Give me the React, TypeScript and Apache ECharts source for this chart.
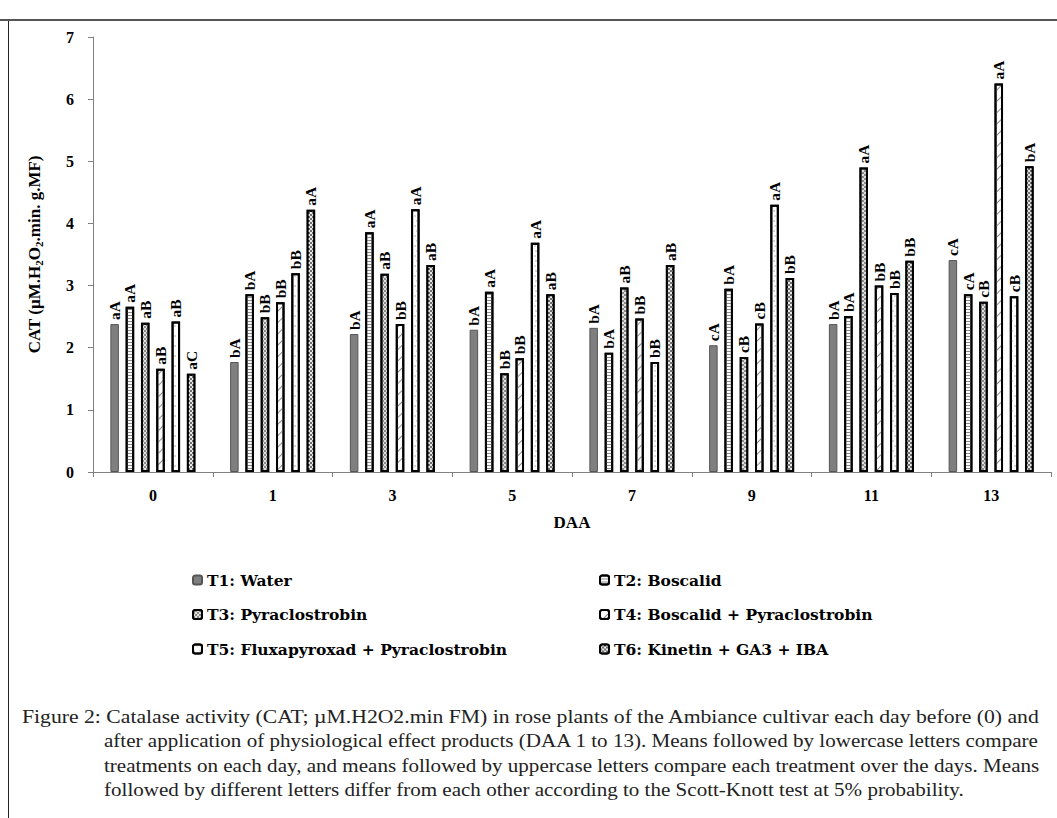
import React, { useEffect, useRef } from "react";
import * as echarts from "echarts";

const days = ["0", "1", "3", "5", "7", "9", "11", "13"];
const treatments = [
  "T1: Water",
  "T2: Boscalid",
  "T3: Pyraclostrobin",
  "T4: Boscalid + Pyraclostrobin",
  "T5: Fluxapyroxad + Pyraclostrobin",
  "T6: Kinetin + GA3 + IBA",
];
const t1 = [2.38, 1.77, 2.22, 2.29, 2.32, 2.04, 2.38, 3.41];
const t2 = [2.66, 2.86, 3.86, 2.9, 1.92, 2.95, 2.51, 2.86];
const t3 = [2.4, 2.49, 3.19, 1.59, 2.97, 1.85, 4.9, 2.74];
const t4 = [1.66, 2.73, 2.38, 1.83, 2.47, 2.39, 3.0, 6.25];
const t5 = [2.42, 3.2, 4.23, 3.69, 1.77, 4.3, 2.88, 2.83];
const t6 = [1.58, 4.22, 3.33, 2.86, 3.33, 3.12, 3.4, 4.92];
const l1 = ["aA", "bA", "bA", "bA", "bA", "cA", "bA", "cA"];
const l2 = ["aA", "bA", "aA", "aA", "bA", "bA", "bA", "cA"];
const l3 = ["aB", "bB", "aB", "bB", "aB", "cB", "aA", "cB"];
const l4 = ["aB", "bB", "bB", "bB", "bB", "cB", "bB", "aA"];
const l5 = ["aB", "bB", "aA", "aA", "bB", "aA", "bB", "cB"];
const l6 = ["aC", "aA", "aB", "aB", "aB", "bB", "bB", "bA"];
const values = [t1, t2, t3, t4, t5, t6];
const letters = [l1, l2, l3, l4, l5, l6];
const yAxisTitle = "CAT (µM.H{s|2}O{s|2}.min. g.MF)";
const xAxisTitle = "DAA";
const caption = [
  "Figure 2: Catalase activity (CAT; µM.H2O2.min FM) in rose plants of the Ambiance cultivar each day before (0) and",
  "after application of physiological effect products (DAA 1 to 13). Means followed by lowercase letters compare",
  "treatments on each day, and means followed by uppercase letters compare each treatment over the days. Means",
  "followed by different letters differ from each other according to the Scott-Knott test at 5% probability.",
];

const SERIF = "Liberation Serif";
const WIDE_SERIF = "DejaVu Serif";

const styles: any[] = [
  { color: "#7f7f7f", borderColor: "#555", borderWidth: 1 },
  {
    color: "#ffffff",
    borderColor: "#000",
    borderWidth: 2,
    decal: {
      symbol: "rect",
      symbolSize: 1,
      dashArrayX: [1, 0],
      dashArrayY: [1, 1.5],
      color: "#8a8a8a",
      backgroundColor: "#ffffff",
    },
  },
  {
    color: "#e0e0e0",
    borderColor: "#000",
    borderWidth: 2,
    decal: {
      symbol: "rect",
      symbolSize: 1,
      dashArrayX: [
        [1.5, 1.5],
        [0, 1.5, 1.5, 0],
      ],
      dashArrayY: [1.5, 0],
      color: "#8c8c8c",
      backgroundColor: "#e8e8e8",
    },
  },
  {
    color: "#ffffff",
    borderColor: "#000",
    borderWidth: 2,
    decal: {
      symbol: "rect",
      symbolSize: 1,
      dashArrayX: [1, 0],
      dashArrayY: [1, 7],
      rotation: -Math.PI / 4,
      color: "#8c8c8c",
      backgroundColor: "#ffffff",
    },
  },
  {
    color: "#ffffff",
    borderColor: "#000",
    borderWidth: 2,
    decal: {
      symbol: "circle",
      symbolSize: 0.7,
      dashArrayX: [
        [1.5, 4],
        [0, 2.75, 1.5, 1.25],
      ],
      dashArrayY: [1.5, 3],
      color: "#9a9a9a",
      backgroundColor: "#ffffff",
    },
  },
  {
    color: "#707070",
    borderColor: "#000",
    borderWidth: 2,
    decal: {
      symbol: "rect",
      symbolSize: 1,
      dashArrayX: [
        [1.5, 1.5],
        [0, 1.5, 1.5, 0],
      ],
      dashArrayY: [1.5, 0],
      color: "#e6e6e6",
      backgroundColor: "#555555",
    },
  },
];

function measure(text: string, font: string): number {
  const ctx = document.createElement("canvas").getContext("2d");
  if (!ctx) return text.length * 8;
  ctx.font = font;
  return ctx.measureText(text).width;
}

export default function App() {
  const ref = useRef<HTMLDivElement>(null);
  useEffect(() => {
    document.body.style.margin = "0";
    const chart = echarts.init(ref.current!, null, { renderer: "svg" });
    const series = values.map((vals, i) => ({
      name: treatments[i],
      type: "bar",
      data: vals,
      barWidth: 8.5,
      barGap: "80%",
      itemStyle: styles[i],
      label: {
        show: true,
        position: "top",
        distance: 4,
        rotate: 90,
        align: "left",
        verticalAlign: "middle",
        fontFamily: SERIF,
        fontWeight: "bold",
        fontSize: 15.5,
        color: "#000",
        formatter: (p: any) => letters[i][p.dataIndex],
      },
    }));
    const legendText = {
      fontFamily: WIDE_SERIF,
      fontWeight: "bold",
      fontSize: 15.5,
      color: "#000",
    };

    // caption lines: justified to the text block width
    const capSize = 18;
    const capFont = `${capSize}px "${SERIF}"`;
    const lineStarts = [22, 104, 104, 104];
    const lineEnds = [1040, 1040, 1040, 0];
    const scales = caption.map((line, i) =>
      lineEnds[i] ? (lineEnds[i] - lineStarts[i]) / measure(line, capFont) : 0
    );
    const avgScale = (scales[1] + scales[2]) / 2;
    const captionGraphics = caption.map((line, i) => ({
      type: "text",
      x: lineStarts[i],
      y: 717 + i * 24.4,
      scaleX: scales[i] || avgScale,
      style: {
        text: line,
        x: 0,
        y: 0,
        fontFamily: SERIF,
        fontSize: capSize,
        fill: "#222",
        verticalAlign: "middle",
      },
    }));

    chart.setOption({
      animation: false,
      backgroundColor: "#ffffff",
      grid: { left: 93, right: 6, top: 37, bottom: 346 },
      legend: [
        {
          data: [treatments[0], treatments[2], treatments[4]],
          orient: "vertical",
          left: 187,
          top: 567,
          itemWidth: 9,
          itemHeight: 9,
          itemGap: 18.5,
          textStyle: legendText,
          selectedMode: false,
        },
        {
          data: [treatments[1], treatments[3], treatments[5]],
          orient: "vertical",
          left: 594,
          top: 567,
          itemWidth: 9,
          itemHeight: 9,
          itemGap: 18.5,
          textStyle: legendText,
          selectedMode: false,
        },
      ],
      xAxis: {
        type: "category",
        data: days,
        name: xAxisTitle,
        nameLocation: "middle",
        nameGap: 42,
        nameTextStyle: { fontFamily: SERIF, fontWeight: "bold", fontSize: 17, color: "#000" },
        axisLine: { lineStyle: { color: "#808080", width: 1 } },
        axisTick: { show: true, length: 5, lineStyle: { color: "#808080" } },
        axisLabel: { fontFamily: SERIF, fontWeight: "bold", fontSize: 16, color: "#000", margin: 15 },
      },
      yAxis: {
        type: "value",
        min: 0,
        max: 7,
        interval: 1,
        name: yAxisTitle,
        nameLocation: "middle",
        nameGap: 49,
        nameRotate: 90,
        nameTextStyle: {
          fontFamily: SERIF,
          fontWeight: "bold",
          fontSize: 17,
          color: "#000",
          rich: {
            s: { fontFamily: SERIF, fontWeight: "bold", fontSize: 11, color: "#000", padding: [8, 0, 0, 0] },
          },
        },
        splitLine: { show: false },
        axisLine: { show: true, lineStyle: { color: "#808080", width: 1 } },
        axisTick: { show: true, length: 5, lineStyle: { color: "#808080" } },
        axisLabel: { fontFamily: SERIF, fontWeight: "bold", fontSize: 16, color: "#000", margin: 19 },
      },
      series,
      graphic: [
        { type: "line", shape: { x1: 0, y1: 20, x2: 1057, y2: 20 }, style: { stroke: "#555", lineWidth: 2 } },
        { type: "line", shape: { x1: 8.5, y1: 21, x2: 8.5, y2: 818 }, style: { stroke: "#222", lineWidth: 1 } },
        ...captionGraphics,
      ],
    });
    return () => chart.dispose();
  }, []);
  return <div ref={ref} style={{ width: 1057, height: 818 }} />;
}
